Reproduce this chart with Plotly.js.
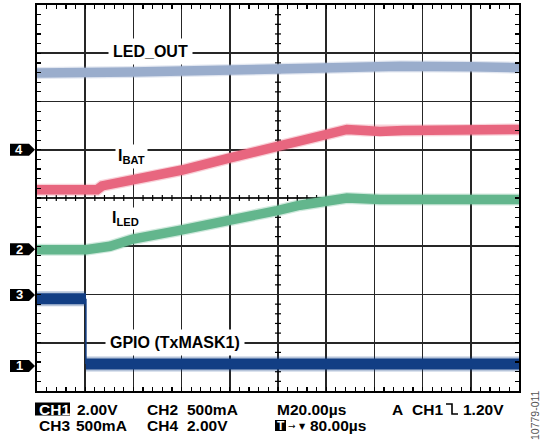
<!DOCTYPE html>
<html>
<head>
<meta charset="utf-8">
<script src="https://cdn.plot.ly/plotly-3.0.1.min.js"></script>
<style>
html,body{margin:0;padding:0;background:#fff;}
#chart{width:540px;height:442px;}
</style>
</head>
<body>
<div id="chart"></div>
<script>
// ---- data (time in µs, 20 µs/div; levels in screen divisions, centre = 0) ----
const tLedOut = [0, 20.3, 39.8, 60.2, 80.1, 96.7, 120.3, 128.6, 150.6, 179.7, 200];
const ledOut  = [2.59, 2.58, 2.61, 2.63, 2.65, 2.68, 2.72, 2.74, 2.73, 2.72, 2.70];

const tIbat = [0, 24.9, 27.0, 39.8, 60.2, 80.1, 88.4, 99.6, 109.1, 120.3, 128.6, 136.1, 142.3, 151.9, 179.7, 200];
const iBat  = [0.17, 0.17, 0.25, 0.37, 0.58, 0.83, 0.93, 1.10, 1.18, 1.31, 1.42, 1.40, 1.38, 1.40, 1.41, 1.42];

const tIled = [0, 20.3, 30.3, 39.8, 60.2, 80.1, 88.4, 99.6, 109.1, 120.3, 128.6, 142.3, 179.7, 200];
const iLed  = [-1.07, -1.07, -1.00, -0.85, -0.66, -0.48, -0.36, -0.26, -0.15, -0.04, 0.00, -0.03, -0.02, -0.03];

const tGpio = [0, 20.3, 20.3, 200];
const gpio  = [-2.09, -2.09, -3.44, -3.44];

const chNames  = ['4', '2', '3', '1'];
const chLevels = [1.0, -1.06, -2.01, -3.48];

const infoRow1 = [['CH1', 35, true], ['2.00V', 75, false], ['CH2', 145, false], ['500mA', 185, false],
                  ['M20.00µs', 275, false], ['A', 390, false], ['CH1', 410, false], ['1.20V', 461, false]];
const infoRow2 = [['CH3', 37, false], ['500mA', 74, false], ['CH4', 145, false], ['2.00V', 185, false],
                  ['80.00µs', 308, false]];

// ---- geometry helpers (layout only) ----
const L = 37, R = 519, T = 5, B = 391;
const px2x = p => (p - L) / (R - L);
const py2y = p => (B - p) / (B - T);
const FONT = 'Liberation Sans, Arial, Helvetica, sans-serif';

const colLed = '#9aadcc', colBat = '#e8667f', colIled = '#63b68d', colGpio = '#123e84';

function band(x, y, color, w) {
  return {x: x, y: y, type: 'scatter', mode: 'lines', line: {color: color, width: w},
          hoverinfo: 'skip', showlegend: false};
}
function fringe(x, y, color, w) {
  return {x: x, y: y, type: 'scatter', mode: 'lines', line: {color: color, width: w},
          opacity: 0.3, hoverinfo: 'skip', showlegend: false};
}

const traces = [
  fringe(tGpio.slice(0, 2), gpio.slice(0, 2), colGpio, 15),
  band(tGpio.slice(0, 2), gpio.slice(0, 2), colGpio, 11),
  band(tGpio.slice(1, 3), gpio.slice(1, 3), colGpio, 1.5),
  fringe(tGpio.slice(2), gpio.slice(2), colGpio, 15),
  band(tGpio.slice(2), gpio.slice(2), colGpio, 11),
  fringe(tIled, iLed, colIled, 12),
  band(tIled, iLed, colIled, 9.5),
  fringe(tIbat, iBat, colBat, 12),
  band(tIbat, iBat, colBat, 9.5),
  fringe(tLedOut, ledOut, colLed, 12),
  band(tLedOut, ledOut, colLed, 9.5)
];

const axisCommon = {showticklabels: false, zeroline: false, fixedrange: true,
  showgrid: true, gridcolor: '#262626', gridwidth: 1.6,
  showline: true, linecolor: '#000', linewidth: 2, mirror: 'allticks',
  ticks: 'inside', ticklen: 4, tickwidth: 1.2, tickcolor: '#000'};

const layout = {
  width: 540, height: 442,
  margin: {l: L, r: 540 - R, t: T, b: 442 - B},
  paper_bgcolor: '#fff', plot_bgcolor: '#fff',
  showlegend: false,
  xaxis: Object.assign({range: [0, 200], tick0: 0, dtick: 20,
    minor: {dtick: 4, tick0: 0, ticks: 'inside', ticklen: 4, tickwidth: 1.2, tickcolor: '#000', showgrid: false}}, axisCommon),
  yaxis: Object.assign({range: [-4, 4], tick0: 0, dtick: 1,
    minor: {dtick: 0.2, tick0: 0, ticks: 'inside', ticklen: 4, tickwidth: 1.2, tickcolor: '#000', showgrid: false}}, axisCommon),
  shapes: [],
  annotations: []
};

// minor ticks on the centre cross-hair (both sides of the centre lines)
for (let k = 1; k < 50; k++) {
  if (k % 5 === 0) continue;
  layout.shapes.push({type: 'line', xref: 'x', yref: 'y', ysizemode: 'pixel', yanchor: 0,
    x0: k * 4, x1: k * 4, y0: -3, y1: 3, line: {color: '#000', width: 1.2}, layer: 'between'});
}
for (let k = 1; k < 40; k++) {
  if (k % 5 === 0) continue;
  const v = -4 + k * 0.2;
  layout.shapes.push({type: 'line', xref: 'x', yref: 'y', xsizemode: 'pixel', xanchor: 100,
    x0: -3, x1: 3, y0: v, y1: v, line: {color: '#000', width: 1.2}, layer: 'between'});
}

// channel ground markers on the left
chNames.forEach((n, i) => {
  layout.shapes.push({type: 'path', xref: 'paper', yref: 'y', xsizemode: 'pixel', ysizemode: 'pixel',
    xanchor: 0, yanchor: chLevels[i], path: 'M-27,-6 H-8 L-2,0 L-8,6 H-27 Z',
    fillcolor: '#000', line: {width: 0}, layer: 'above'});
  layout.annotations.push({xref: 'paper', yref: 'y', x: 0, y: chLevels[i], xanchor: 'center', yanchor: 'middle',
    xshift: -18, text: '<b>' + n + '</b>', showarrow: false, font: {family: FONT, size: 13, color: '#fff'}});
});

// trace labels
const lab = (x, y, text, pad) => ({x: x, y: y, xref: 'x', yref: 'y', xanchor: 'center', yanchor: 'middle',
  text: text, showarrow: false, bgcolor: '#fff', borderpad: pad, font: {family: FONT, size: 16, color: '#000'}});
layout.annotations.push(lab(46.9, 3.03, '<b>LED_OUT</b>', 4));
layout.annotations.push(lab(39.4, 0.85, '<b>I<sub>BAT</sub></b>', 2));
layout.annotations.push(lab(36.7, -0.43, '<b>I<sub>LED</sub></b>', 1));
layout.annotations.push(lab(57.3, -3.0, '<b>GPIO (TxMASK1)</b>', 4));

// info lines under the grid
function info(row, yPix) {
  row.forEach(([txt, xp, boxed]) => {
    if (boxed) {
      layout.shapes.push({type: 'rect', xref: 'paper', yref: 'paper', x0: px2x(xp), x1: px2x(xp + 35),
        y0: py2y(yPix - 6.5), y1: py2y(yPix + 6.5), fillcolor: '#000', line: {width: 0}, layer: 'above'});
    }
    layout.annotations.push({xref: 'paper', yref: 'paper', x: px2x(boxed ? xp + 2 : xp), y: py2y(yPix),
      xanchor: 'left', yanchor: 'middle', text: '<b>' + txt + '</b>', showarrow: false,
      font: {family: FONT, size: 15.5, color: boxed ? '#fff' : '#000'}});
  });
}
info(infoRow1, 409);
info(infoRow2, 425.5);

// trigger edge symbol
layout.shapes.push({type: 'path', xref: 'paper', yref: 'paper',
  path: 'M' + px2x(446) + ',' + py2y(404) + ' L' + px2x(452) + ',' + py2y(404) +
        ' L' + px2x(452) + ',' + py2y(414) + ' L' + px2x(458) + ',' + py2y(414),
  line: {color: '#000', width: 1.6}});
// T box
layout.shapes.push({type: 'rect', xref: 'paper', yref: 'paper', x0: px2x(275), x1: px2x(286),
  y0: py2y(431), y1: py2y(420), fillcolor: '#000', line: {width: 0}});
layout.annotations.push({xref: 'paper', yref: 'paper', x: px2x(280.5), y: py2y(425.5), xanchor: 'center',
  yanchor: 'middle', text: '<b>T</b>', showarrow: false, font: {family: FONT, size: 12, color: '#fff'}});
layout.annotations.push({xref: 'paper', yref: 'paper', x: px2x(286), y: py2y(425.5), xanchor: 'left',
  yanchor: 'middle', text: '→', showarrow: false, font: {family: 'DejaVu Sans, sans-serif', size: 9, color: '#000'}});
layout.annotations.push({xref: 'paper', yref: 'paper', x: px2x(297), y: py2y(426), xanchor: 'left',
  yanchor: 'middle', text: '▼', showarrow: false, font: {family: 'DejaVu Sans, sans-serif', size: 8, color: '#000'}});

// figure number
layout.annotations.push({xref: 'paper', yref: 'paper', x: px2x(535), y: py2y(415), xanchor: 'center',
  yanchor: 'middle', textangle: -90, text: '10779-011', showarrow: false,
  font: {family: FONT, size: 10.5, color: '#555'}});

Plotly.newPlot('chart', traces, layout, {staticPlot: true, displayModeBar: false});
</script>
</body>
</html>
